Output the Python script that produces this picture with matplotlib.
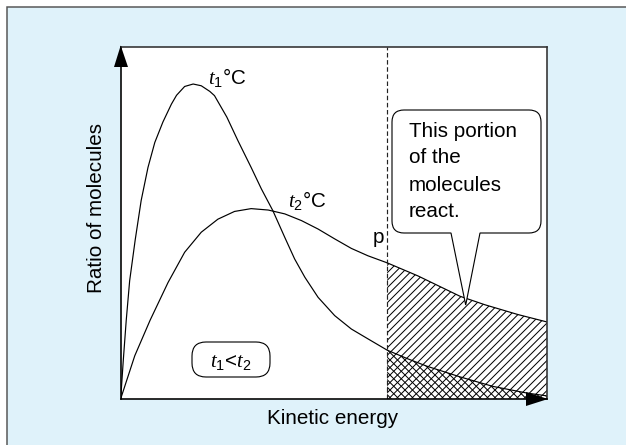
import matplotlib
matplotlib.use('Agg')
import matplotlib.pyplot as plt
from matplotlib.transforms import Affine2D
from matplotlib.patches import Rectangle, Polygon, PathPatch, FancyBboxPatch
from matplotlib.path import Path
import numpy as np

# ---------------- data ----------------
energy_t1 = [0.00, 0.06, 0.13, 0.21, 0.34, 0.48, 0.64, 0.80, 0.99, 1.19, 1.31, 1.50,
             1.70, 1.89, 2.09, 2.20, 2.49, 2.75, 3.06, 3.30, 3.57, 3.85, 4.08, 4.32,
             4.63, 5.02, 5.41, 5.80, 6.25, 6.74, 7.19, 7.96, 8.73, 9.53, 10.00]
ratio_t1 = [0.00, 1.08, 2.23, 3.35, 4.51, 5.63, 6.57, 7.28, 7.86, 8.37, 8.62, 8.87,
            8.94, 8.89, 8.73, 8.61, 8.00, 7.33, 6.57, 5.96, 5.34, 4.58, 3.97, 3.45,
            2.88, 2.36, 1.98, 1.70, 1.38, 1.13, 0.92, 0.62, 0.35, 0.16, 0.08]

energy_t2 = [0.00, 0.33, 0.69, 1.11, 1.50, 1.89, 2.28, 2.67, 3.06, 3.46, 3.85, 4.24,
             4.63, 5.02, 5.41, 5.80, 6.25, 6.97, 7.96, 8.54, 9.32, 10.00]
ratio_t2 = [0.00, 1.22, 2.23, 3.30, 4.16, 4.73, 5.10, 5.32, 5.40, 5.36, 5.25, 5.06,
            4.82, 4.54, 4.27, 4.06, 3.86, 3.49, 2.91, 2.67, 2.39, 2.18]

threshold_p = 6.25
x_label = "Kinetic energy"
y_label = "Ratio of molecules"
label_t1 = r"$\mathit{t}_{\mathrm{1}}$°C"
label_t2 = r"$\mathit{t}_{\mathrm{2}}$°C"
label_p = "p"
label_cmp = r"$\mathit{t}_{\mathrm{1}}$<$\mathit{t}_{\mathrm{2}}$"
callout_lines = ["This portion", "of the", "molecules", "react."]

# ---------------- style ----------------
W, H, DPI = 626, 445, 90
plt.rcParams['font.family'] = ['Liberation Sans', 'DejaVu Sans']
plt.rcParams['mathtext.fontset'] = 'custom'
plt.rcParams['mathtext.rm'] = 'Liberation Sans'
plt.rcParams['mathtext.it'] = 'Liberation Serif:italic'
plt.rcParams['hatch.linewidth'] = 0.8
FS = 16.5

fig = plt.figure(figsize=(W / DPI, H / DPI), dpi=DPI, facecolor='white')
# pixel coordinates (origin top-left)
px = Affine2D().scale(1 / W, -1 / H).translate(0, 1) + fig.transFigure

# outer panel
fig.add_artist(Rectangle((7, 7), 700, 500, transform=px, facecolor='#dff2fa',
                         edgecolor='#555555', lw=1.2, zorder=-5))

L, R, T, B = 120.7, 547.0, 46.7, 398.7
ax = fig.add_axes([L / W, 1 - B / H, (R - L) / W, (B - T) / H])
ax.set_facecolor('white')
ax.set_xlim(0, 10)
ax.set_ylim(0, 10)
ax.set_xticks([])
ax.set_yticks([])
for side, sp in ax.spines.items():
    sp.set_color('#333333')
    sp.set_linewidth(1.3)
ax.spines['left'].set_color('black')
ax.spines['bottom'].set_color('black')

x1 = np.array(energy_t1); y1 = np.array(ratio_t1)
x2 = np.array(energy_t2); y2 = np.array(ratio_t2)
m1 = x1 >= threshold_p
m2 = x2 >= threshold_p

ax.fill_between(x2[m2], 0, y2[m2], facecolor='none', edgecolor='black', hatch='////', lw=0)
ax.fill_between(x1[m1], 0, y1[m1], facecolor='none', edgecolor='black', hatch='\\\\\\\\', lw=0)

ax.plot(x1, y1, color='black', lw=0.95, solid_joinstyle='round')
ax.plot(x2, y2, color='black', lw=0.95, solid_joinstyle='round')
ax.axvline(threshold_p, color='#222222', lw=0.95, linestyle=(0, (3.8, 2.2)))

# axis arrowheads
fig.add_artist(Polygon([(120.7, 45.5), (114, 67), (128, 67)], closed=True, transform=px,
                       facecolor='black', edgecolor='none', zorder=5))
fig.add_artist(Polygon([(548, 399), (526, 392), (526, 406)], closed=True, transform=px,
                       facecolor='black', edgecolor='none', zorder=5))

# callout bubble
bx0, by0, bx1, by1, r = 392, 110, 541, 233, 12
tip = (465.7, 305)
verts = [(451, by1), tip, (480, by1), (bx1 - r, by1), (bx1, by1), (bx1, by1 - r),
         (bx1, by0 + r), (bx1, by0), (bx1 - r, by0), (bx0 + r, by0), (bx0, by0),
         (bx0, by0 + r), (bx0, by1 - r), (bx0, by1), (bx0 + r, by1), (451, by1), (451, by1)]
codes = [Path.MOVETO, Path.LINETO, Path.LINETO, Path.LINETO, Path.CURVE3, Path.CURVE3,
         Path.LINETO, Path.CURVE3, Path.CURVE3, Path.LINETO, Path.CURVE3, Path.CURVE3,
         Path.LINETO, Path.CURVE3, Path.CURVE3, Path.LINETO, Path.CLOSEPOLY]
fig.add_artist(PathPatch(Path(verts, codes), transform=px, facecolor='white',
                         edgecolor='black', lw=0.9, zorder=6, joinstyle='miter'))
base_y = [136.7, 163.3, 190.7, 216.7]
for line, yb in zip(callout_lines, base_y):
    fig.text(409, yb, line, transform=px, fontsize=FS, ha='left', va='baseline', zorder=7)

# t1<t2 rounded box
fig.add_artist(FancyBboxPatch((192, 342), 78, 35, transform=px,
                              boxstyle='round,pad=0,rounding_size=14',
                              facecolor='white', edgecolor='black', lw=0.9, zorder=6))
fig.text(231, 367, label_cmp, transform=px, fontsize=FS, ha='center', va='baseline', zorder=7)

# curve labels
fig.text(208.5, 84, label_t1, transform=px, fontsize=FS, ha='left', va='baseline', zorder=7)
fig.text(288.5, 207, label_t2, transform=px, fontsize=FS, ha='left', va='baseline', zorder=7)
fig.text(373, 243, label_p, transform=px, fontsize=FS, ha='left', va='baseline', zorder=7)

# axis labels
fig.text(333, 424, x_label, transform=px, fontsize=FS, ha='center', va='baseline')
fig.text(96, 208, y_label, transform=px, fontsize=FS, ha='center', va='center', rotation=90)

fig.savefig('out.png', dpi=DPI, facecolor='white')
